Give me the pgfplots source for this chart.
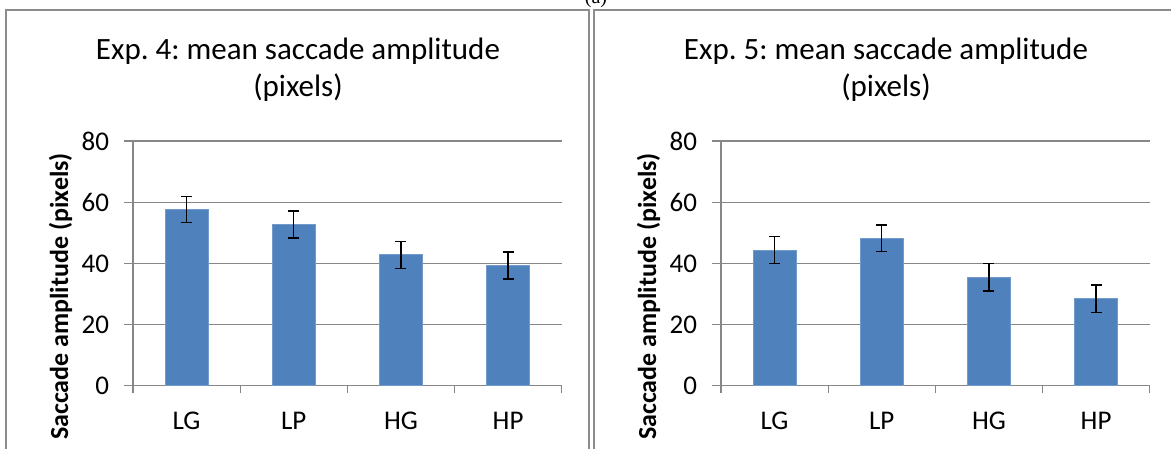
\documentclass[border=0pt]{standalone}
\usepackage{pgfplots}
\pgfplotsset{compat=1.18}
\usepackage{fontspec}
\setmainfont{Carlito}
\newfontfamily\seriffont{Liberation Serif}
\definecolor{barblue}{HTML}{4F81BD}
\definecolor{gridgray}{HTML}{878787}
\definecolor{framegray}{HTML}{8C8C8C}
\frenchspacing
\pgfplotsset{
  sacc/.style={
    scale only axis, width=214.35pt, height=122.35pt,
    anchor=south west,
    xmin=-0.5, xmax=3.5, ymin=0, ymax=80,
    axis lines*=left,
    axis line style={gridgray, line width=0.6pt},
    ytick={0,20,40,60,80},
    ymajorgrids, grid style={gridgray, line width=0.6pt},
    xtick={0,1,2,3}, xticklabels={LG,LP,HG,HP},
    major tick length=0pt,
    extra x ticks={-0.5,0.5,1.5,2.5,3.5}, extra x tick labels={},
    extra x tick style={major tick length=3.5pt, tick align=outside, tick style={gridgray, line width=0.6pt}, grid=none},
    ytick style={gridgray, line width=0.6pt},
    y tick label style={font=\fontsize{13.5}{15}\selectfont, anchor=east, xshift=-8.5pt},
    x tick label style={font=\fontsize{13.5}{15}\selectfont, anchor=north, yshift=-9.5pt},
    /pgf/number format/assume math mode=true,
    clip=false,
  },
  bars/.style={ybar, bar width=21.35pt, fill=barblue, draw=barblue!80!white, line width=0.4pt,
    error bars/.cd, y dir=both, y explicit,
    error bar style={black, line width=0.7pt},
    error mark options={black, rotate=90, mark size=2.75pt, line width=0.7pt}},
}
\begin{document}
\begin{tikzpicture}
\useasboundingbox (0,0) rectangle (585.5pt,224.5pt);
% panel frames
\draw[framegray, line width=0.7pt] (3pt,-10pt) -- (3pt,219.5pt) -- (294.5pt,219.5pt) -- (294.5pt,-10pt);
\draw[framegray, line width=0.7pt] (297pt,-10pt) -- (297pt,219.5pt) -- (600pt,219.5pt);
\node[anchor=base, font=\seriffont\fontsize{10}{12}\selectfont] at (298pt,222.8pt) {(a)};
% left panel
\begin{axis}[sacc, at={(66.5pt,31.65pt)}]
  \addplot[bars] coordinates {(0,57.6) +- (0,4.3) (1,52.7) +- (0,4.4) (2,42.8) +- (0,4.4) (3,39.3) +- (0,4.4)};
\end{axis}
\begin{axis}[sacc, at={(360.5pt,31.65pt)}]
  \addplot[bars] coordinates {(0,44.3) +- (0,4.4) (1,48.2) +- (0,4.4) (2,35.4) +- (0,4.5) (3,28.4) +- (0,4.5)};
\end{axis}
% y tick marks (outward)
\foreach \yy in {0,1,2,3,4} {
  \draw[gridgray, line width=0.6pt] (62pt,31.65pt+\yy*30.5875pt) -- (66.5pt,31.65pt+\yy*30.5875pt);
  \draw[gridgray, line width=0.6pt] (356pt,31.65pt+\yy*30.5875pt) -- (360.5pt,31.65pt+\yy*30.5875pt);
}
% titles
\node[anchor=base, font=\fontsize{15.5}{19}\selectfont] at (149pt,194.85pt) {Exp. 4: mean saccade amplitude};
\node[anchor=base, font=\fontsize{15.5}{19}\selectfont] at (149pt,176.15pt) {(pixels)};
\node[anchor=base, font=\fontsize{15.5}{19}\selectfont] at (443pt,194.85pt) {Exp. 5: mean saccade amplitude};
\node[anchor=base, font=\fontsize{15.5}{19}\selectfont] at (443pt,176.15pt) {(pixels)};
% y labels
\node[anchor=base, rotate=90, font=\bfseries\fontsize{13}{15}\selectfont] at (34pt,76.25pt) {Saccade amplitude (pixels)};
\node[anchor=base, rotate=90, font=\bfseries\fontsize{13}{15}\selectfont] at (328pt,76.25pt) {Saccade amplitude (pixels)};
\end{tikzpicture}
\end{document}
